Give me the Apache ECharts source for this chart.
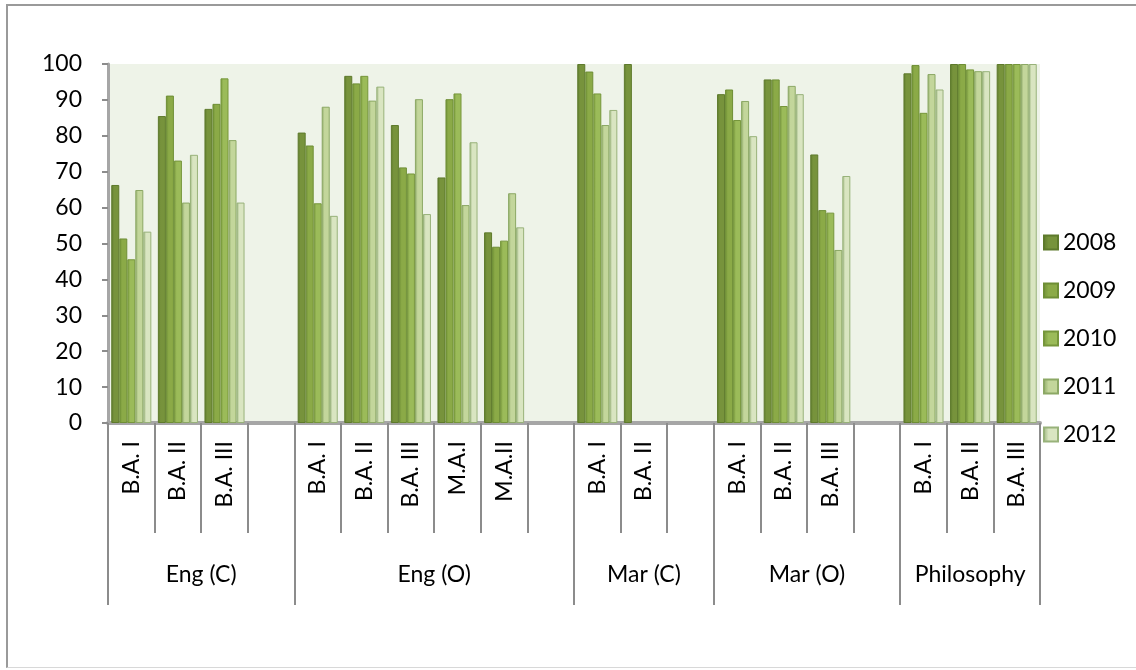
<!DOCTYPE html>
<html>
<head>
<meta charset="utf-8">
<script src="https://cdn.jsdelivr.net/npm/echarts@6/dist/echarts.min.js"></script>
<style>
html,body{margin:0;padding:0;background:#fff;}
#frame{position:absolute;left:6px;top:4px;width:1140px;height:664px;border-left:2px solid #9a9a9a;border-top:2px solid #9a9a9a;border-bottom:1px solid #d8d8d8;box-sizing:border-box;}
#main{position:absolute;left:0;top:0;width:1136px;height:670px;}
</style>
</head>
<body>
<div id="frame"></div>
<div id="main"></div>
<script>
// ---- data ----
const groupNames = ['Eng (C)', 'Eng (O)', 'Mar (C)', 'Mar (O)', 'Philosophy'];
const groupSizes = [4, 6, 3, 4, 3]; // slots per group, including one blank spacer slot after each group but the last
const subLabels = [
  'B.A. I', 'B.A. II', 'B.A. III', '',
  'B.A. I', 'B.A. II', 'B.A. III', 'M.A.I', 'M.A.II', '',
  'B.A. I', 'B.A. II', '',
  'B.A. I', 'B.A. II', 'B.A. III', '',
  'B.A. I', 'B.A. II', 'B.A. III'
];
const years = ['2008', '2009', '2010', '2011', '2012'];
const v2008 = [66.3, 85.5, 87.5, null, 80.9, 96.7, 83.0, 68.4, 53.1, null, 100, 100, null, 91.6, 95.7, 74.8, null, 97.4, 100, 100];
const v2009 = [51.4, 91.2, 88.9, null, 77.3, 94.6, 71.2, 90.2, 49.1, null, 97.9, null, null, 92.9, 95.7, 59.3, null, 99.7, 100, 100];
const v2010 = [45.6, 73.1, 96.0, null, 61.2, 96.7, 69.5, 91.8, 50.8, null, 91.8, null, null, 84.4, 88.3, 58.6, null, 86.4, 98.5, 100];
const v2011 = [64.9, 61.4, 78.8, null, 88.1, 89.8, 90.2, 60.7, 64.0, null, 83.0, null, null, 89.7, 93.9, 48.2, null, 97.2, 98.0, 100];
const v2012 = [53.3, 74.7, 61.4, null, 57.7, 93.7, 58.2, 78.2, 54.5, null, 87.2, null, null, 79.9, 91.6, 68.8, null, 92.9, 98.0, 100];
const seriesValues = [v2008, v2009, v2010, v2011, v2012];
const yTicks = [0, 10, 20, 30, 40, 50, 60, 70, 80, 90, 100];

// ---- styles ----
const fills = ['#77933C', '#8BAA47', '#9BBB59', '#C3D69B', '#D9E5C1'];
const edges = ['#5E7A2C', '#6E8E35', '#76963B', '#8CA865', '#98B27A'];
const FONT = 'Lato';
const FS = 23;

// group axis built on half-slot positions (boundaryGap:false)
const halfCount = subLabels.length * 2 + 1;
const groupAxisData = new Array(halfCount).fill('');
const boundaryIdx = [0];
const centerIdx = [];
let acc = 0;
groupSizes.forEach((s, i) => {
  const start = acc;
  acc += s;
  boundaryIdx.push(acc * 2);
  const c = Math.round((start + s / 2) * 2);
  centerIdx.push(c);
  groupAxisData[c] = groupNames[i];
});

const chart = echarts.init(document.getElementById('main'), null, {renderer: 'canvas'});
chart.setOption({
  animation: false,
  textStyle: {fontFamily: FONT},
  grid: {left: 108, right: 96, top: 64, bottom: 247, show: true, backgroundColor: '#EEF3E8', borderWidth: 0},
  legend: {
    orient: 'vertical', left: 1038, top: 226,
    itemWidth: 14, itemHeight: 14, itemGap: 25, icon: 'rect',
    textStyle: {fontFamily: FONT, fontSize: FS, color: '#000'},
    data: years
  },
  xAxis: [
    {
      type: 'category', data: subLabels, position: 'bottom',
      axisLine: {lineStyle: {color: '#a6a6a6', width: 4}},
      axisTick: {show: true, interval: 0, length: 110, lineStyle: {color: '#8c8c8c', width: 2}},
      axisLabel: {interval: 0, rotate: 90, margin: 18, fontSize: FS, color: '#000', fontFamily: FONT},
      splitLine: {show: false}
    },
    {
      type: 'category', data: groupAxisData, position: 'bottom', boundaryGap: false,
      axisLine: {show: false},
      axisTick: {show: true, length: 182, interval: (i) => boundaryIdx.includes(i), lineStyle: {color: '#8c8c8c', width: 2}},
      axisLabel: {interval: (i) => centerIdx.includes(i), margin: 140, fontSize: FS, color: '#000', fontFamily: FONT},
      splitLine: {show: false}
    }
  ],
  yAxis: {
    type: 'value', min: yTicks[0], max: yTicks[yTicks.length - 1], interval: yTicks[1] - yTicks[0],
    axisLine: {show: true, lineStyle: {color: '#a6a6a6', width: 3}},
    axisTick: {show: true, length: 6, lineStyle: {color: '#8c8c8c', width: 2}},
    axisLabel: {fontSize: FS, color: '#000', margin: 26, fontFamily: FONT},
    splitLine: {show: false}
  },
  series: years.map((y, i) => ({
    name: y, type: 'bar', xAxisIndex: 0,
    data: seriesValues[i],
    barGap: '0%', barCategoryGap: '14%',
    itemStyle: {
      color: new echarts.graphic.LinearGradient(0, 0, 1, 0, [
        {offset: 0, color: edges[i]},
        {offset: 0.35, color: fills[i]},
        {offset: 1, color: fills[i]}
      ]),
      borderColor: edges[i], borderWidth: 1
    }
  }))
});
</script>
</body>
</html>
